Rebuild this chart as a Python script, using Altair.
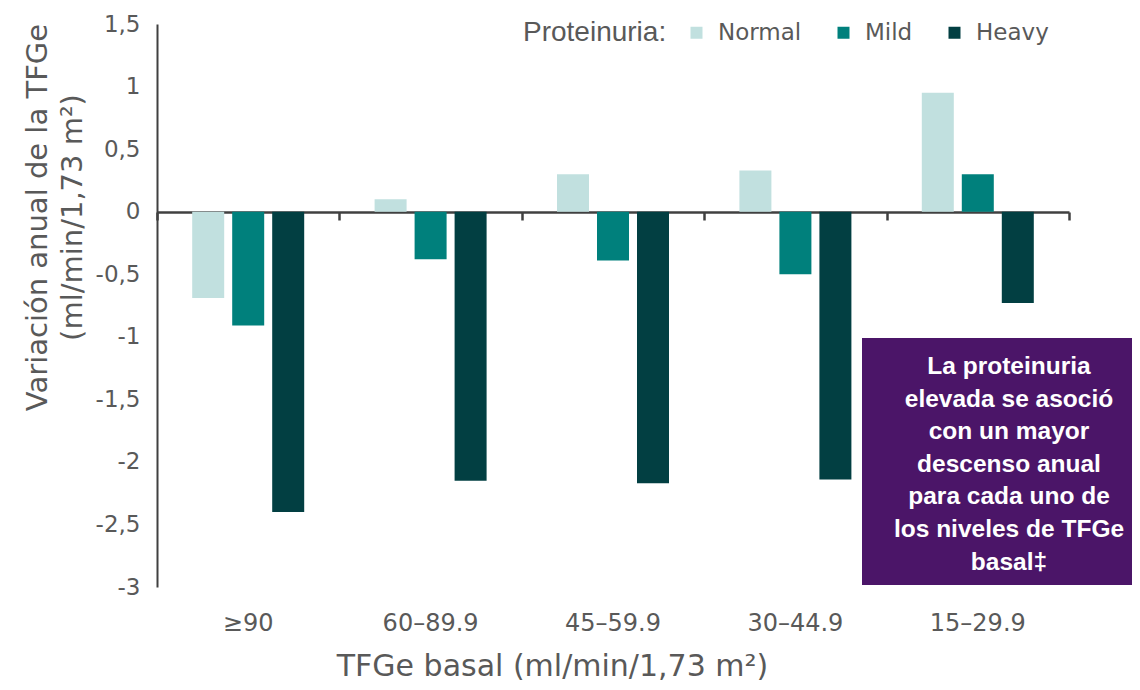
import altair as alt
import pandas as pd

# ---- data ----
CATEGORIES = ["≥90", "60–89.9", "45–59.9", "30–44.9", "15–29.9"]
SERIES = ["Normal", "Mild", "Heavy"]
NORMAL = [-0.69, 0.10, 0.30, 0.33, 0.95]
MILD = [-0.91, -0.38, -0.39, -0.50, 0.30]
HEAVY = [-2.40, -2.15, -2.17, -2.14, -0.73]
COLORS = ["#C1E0DF", "#00807C", "#023F42"]
Y_TICKS = [-3, -2.5, -2, -1.5, -1, -0.5, 0, 0.5, 1, 1.5]
ANNOTATION = ["La proteinuria", "elevada se asoció", "con un mayor",
              "descenso anual", "para cada uno de", "los niveles de TFGe", "basal‡"]

rows = []
for s, vals in zip(SERIES, [NORMAL, MILD, HEAVY]):
    for c, v in zip(CATEGORIES, vals):
        rows.append({"cat": c, "Proteinuria": s, "value": v})
df = pd.DataFrame(rows)

TEXT = "#595959"
AXIS = "#404040"

xscale = alt.Scale(domain=CATEGORIES, paddingInner=0, paddingOuter=0)
offscale = alt.Scale(domain=SERIES, paddingInner=0.2, paddingOuter=0.88)
yscale = alt.Scale(domain=[-3, 1.5], nice=False, zero=False)
color = alt.Color(
    "Proteinuria:N",
    scale=alt.Scale(domain=SERIES, range=COLORS),
    legend=alt.Legend(
        title="Proteinuria:", orient="none", legendX=366, legendY=-3,
        direction="horizontal", titleOrient="left",
        titleFont="Liberation Sans", titleFontSize=28, titleFontWeight="normal",
        titleColor=TEXT, titlePadding=18,
        labelFont="DejaVu Sans", labelFontSize=23, labelColor=TEXT,
        symbolType="square", symbolSize=144, symbolStrokeWidth=0,
        symbolOpacity=1, columnPadding=30, labelOffset=10,
    ),
)

bars = alt.Chart(df).mark_bar().encode(
    x=alt.X("cat:N", scale=xscale, sort=CATEGORIES,
            axis=alt.Axis(orient="bottom", offset=-375, labels=False, title=None,
                          domainColor=AXIS, domainWidth=2.5, tickColor=AXIS,
                          tickWidth=2.5, tickSize=8, tickBand="extent", grid=False)),
    xOffset=alt.XOffset("Proteinuria:N", scale=offscale, sort=SERIES),
    y=alt.Y("value:Q", scale=yscale, stack=None,
            axis=alt.Axis(values=Y_TICKS, ticks=False, grid=False,
                          domainColor=AXIS, domainWidth=2,
                          labelFont="DejaVu Sans", labelFontSize=23, labelColor=TEXT,
                          labelPadding=17,
                          labelExpr="replace('' + datum.value, '.', ',')",
                          title=["Variación anual de la TFGe", "(ml/min/1,73 m²)"],
                          titleFont="DejaVu Sans", titleFontSize=29,
                          titleFontWeight="normal", titleColor=TEXT,
                          titleAngle=-90, titleX=-120, titleY=193,
                          titleAlign="center", titleBaseline="middle",
                          titleLineHeight=35)),
    y2=alt.datum(0),
    color=color,
)

label_layer = alt.Chart(df).mark_bar(opacity=0).encode(
    x=alt.X("cat:N", scale=xscale, sort=CATEGORIES,
            axis=alt.Axis(orient="bottom", domain=False, ticks=False, grid=False,
                          labelAngle=0, labelFont="DejaVu Sans", labelFontSize=24,
                          labelColor=TEXT, labelPadding=24,
                          title="TFGe basal (ml/min/1,73 m²)",
                          titleFont="DejaVu Sans", titleFontSize=30,
                          titleFontWeight="normal", titleColor=TEXT,
                          titleX=395, titleY=88, titleAlign="center",
                          titleBaseline="alphabetic")),
    xOffset=alt.XOffset("Proteinuria:N", scale=offscale, sort=SERIES),
    y=alt.Y("value:Q", scale=yscale, stack=None, axis=None),
    y2=alt.datum(0),
)

box = alt.Chart(pd.DataFrame({"k": [0]})).mark_rect(color="#4B1568").encode(
    x=alt.value(705), x2=alt.value(990), y=alt.value(314), y2=alt.value(561)
)
note = alt.Chart(pd.DataFrame({"k": [0]})).mark_text(
    font="Liberation Sans", fontWeight="bold", fontSize=24.5, color="white",
    align="center", baseline="middle", lineHeight=32.6,
).encode(x=alt.value(852), y=alt.value(343), text=alt.value(ANNOTATION))

chart = alt.layer(bars, label_layer, box, note).resolve_axis(
    x="independent", y="independent"
).properties(
    width=912, height=563,
    autosize=alt.AutoSizeParams(type="none"),
    padding={"left": 149, "top": 16, "right": 63, "bottom": 99},
).configure_view(strokeWidth=0)

chart.save("out.html", embed_options={"renderer": "svg", "actions": False})
